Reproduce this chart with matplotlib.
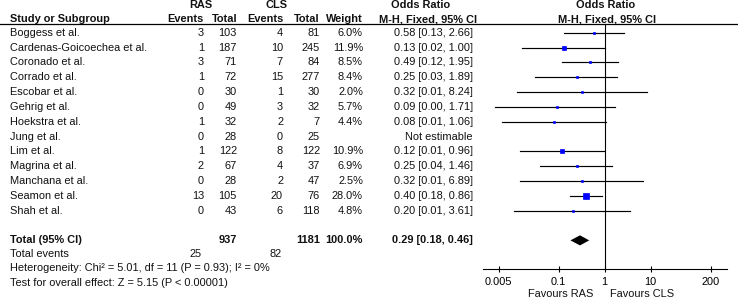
import matplotlib.pyplot as plt
import matplotlib.transforms as mtransforms

plt.rcParams["font.family"] = ["Liberation Sans", "DejaVu Sans"]
FS = 7.9

studies = ["Boggess et al.", "Cardenas-Goicoechea et al.", "Coronado et al.",
           "Corrado et al.", "Escobar et al.", "Gehrig et al.", "Hoekstra et al.",
           "Jung et al.", "Lim et al.", "Magrina et al.", "Manchana et al.",
           "Seamon et al.", "Shah et al."]
ras_events = [3, 1, 3, 1, 0, 0, 1, 0, 1, 2, 0, 13, 0]
ras_total = [103, 187, 71, 72, 30, 49, 32, 28, 122, 67, 28, 105, 43]
cls_events = [4, 10, 7, 15, 1, 3, 2, 0, 8, 4, 2, 20, 6]
cls_total = [81, 245, 84, 277, 30, 32, 7, 25, 122, 37, 47, 76, 118]
weight = [6.0, 11.9, 8.5, 8.4, 2.0, 5.7, 4.4, None, 10.9, 6.9, 2.5, 28.0, 4.8]
odds = [0.58, 0.13, 0.49, 0.25, 0.32, 0.09, 0.08, None, 0.12, 0.25, 0.32, 0.40, 0.20]
ci_lo = [0.13, 0.0157, 0.12, 0.03, 0.0126, 0.0041, 0.006, None, 0.0144, 0.04, 0.0144, 0.18, 0.0107]
ci_hi = [2.66, 1.00, 1.95, 1.89, 8.24, 1.71, 1.06, None, 0.96, 1.46, 6.89, 0.86, 3.61]

total_ras, total_cls = 937, 1181
events_ras, events_cls = 25, 82
total_or, total_lo, total_hi = 0.29, 0.18, 0.46
heterogeneity = "Heterogeneity: Chi² = 5.01, df = 11 (P = 0.93); I² = 0%"
overall = "Test for overall effect: Z = 5.15 (P < 0.00001)"
xticks = [0.005, 0.1, 1, 10, 200]
xtick_labels = ["0.005", "0.1", "1", "10", "200"]

W, H = 738, 299
fig = plt.figure(figsize=(W / 100, H / 100), dpi=100)

# overlay in pixel coordinates for the table part
over = fig.add_axes([0, 0, 1, 1])
over.set_xlim(0, W)
over.set_ylim(H, 0)
over.axis("off")

# forest panel
ax = fig.add_axes([482.7 / W, 30 / H, 244 / W, 245 / H])
ax.set_xscale("log")
ax.set_xlim(10 ** -2.652, 10 ** 2.652)
ax.set_ylim(15.93, -0.587)
for s in ["top", "left", "right"]:
    ax.spines[s].set_visible(False)
ax.spines["bottom"].set_linewidth(0.8)
ax.set_yticks([])
ax.set_xticks(xticks)
ax.set_xticklabels(xtick_labels, fontsize=FS)
ax.minorticks_off()
ax.tick_params(axis="x", direction="inout", length=5, width=0.8, pad=3)
ax.axvline(1, color="black", lw=0.8)
ax.patch.set_alpha(0)

for i in range(len(studies)):
    if odds[i] is None:
        continue
    ax.plot([ci_lo[i], ci_hi[i]], [i, i], color="black", lw=0.85)
    side = max(2.6, 6.3 * (weight[i] / 28.0) ** 0.5)
    ax.plot(odds[i], i, marker="s", color="#0000FF", ms=side * 0.72 - 0.5,
            mew=0.5, mec="#0000FF", zorder=3)

ti = len(studies) + 1
hh = 0.34
ax.fill([total_lo, total_or, total_hi, total_or], [ti, ti - hh, ti, ti + hh],
        color="black", lw=0)

tr = mtransforms.blended_transform_factory(over.transData, ax.transData)

def cell(x, y, s, ha="right", bold=False):
    over.text(x, y, s, transform=tr, ha=ha, va="center", fontsize=FS,
              fontweight="bold" if bold else "normal", color="#111111")

def head(x, y, s, ha="right"):
    over.text(x, y, s, ha=ha, va="center", fontsize=FS, fontweight="bold",
              color="#111111")

# headers
head(201, 5, "RAS", ha="center")
head(276, 5, "CLS", ha="center")
head(421, 5, "Odds Ratio", ha="center")
head(606, 5, "Odds Ratio", ha="center")
head(10, 19.5, "Study or Subgroup", ha="left")
head(204, 19.5, "Events")
head(237, 19.5, "Total")
head(283, 19.5, "Events")
head(320, 19.5, "Total")
head(363, 19.5, "Weight")
head(428.5, 19.5, "M-H, Fixed, 95% CI", ha="center")
head(607.5, 19.5, "M-H, Fixed, 95% CI", ha="center")
over.plot([0, 737], [23.7, 23.7], color="black", lw=0.9)

for i, name in enumerate(studies):
    cell(10, i, name, ha="left")
    cell(204, i, str(ras_events[i]))
    cell(237, i, str(ras_total[i]))
    cell(283, i, str(cls_events[i]))
    cell(320, i, str(cls_total[i]))
    if odds[i] is None:
        cell(472.7, i, "Not estimable")
    else:
        cell(363, i, f"{weight[i]:.1f}%")
        cell(472.7, i, f"{odds[i]:.2f} [{ci_lo[i]:.2f}, {ci_hi[i]:.2f}]")

cell(10, ti, "Total (95% CI)", ha="left", bold=True)
cell(237, ti, str(total_ras), bold=True)
cell(320, ti, str(total_cls), bold=True)
cell(363, ti, f"{sum(w for w in weight if w is not None):.1f}%", bold=True)
cell(472.7, ti, f"{total_or:.2f} [{total_lo:.2f}, {total_hi:.2f}]", bold=True)

over.text(10, 254, "Total events", ha="left", va="center", fontsize=FS, color="#111111")
over.text(202, 254, str(events_ras), ha="right", va="center", fontsize=FS, color="#111111")
over.text(282, 254, str(events_cls), ha="right", va="center", fontsize=FS, color="#111111")
over.text(10, 268, heterogeneity, ha="left", va="center", fontsize=FS, color="#111111")
over.text(10, 282.5, overall, ha="left", va="center", fontsize=FS, color="#111111")

over.text(593, 294, "Favours RAS", ha="right", va="center", fontsize=FS, color="#111111")
over.text(610, 294, "Favours CLS", ha="left", va="center", fontsize=FS, color="#111111")

fig.savefig("out.png", dpi=100)
